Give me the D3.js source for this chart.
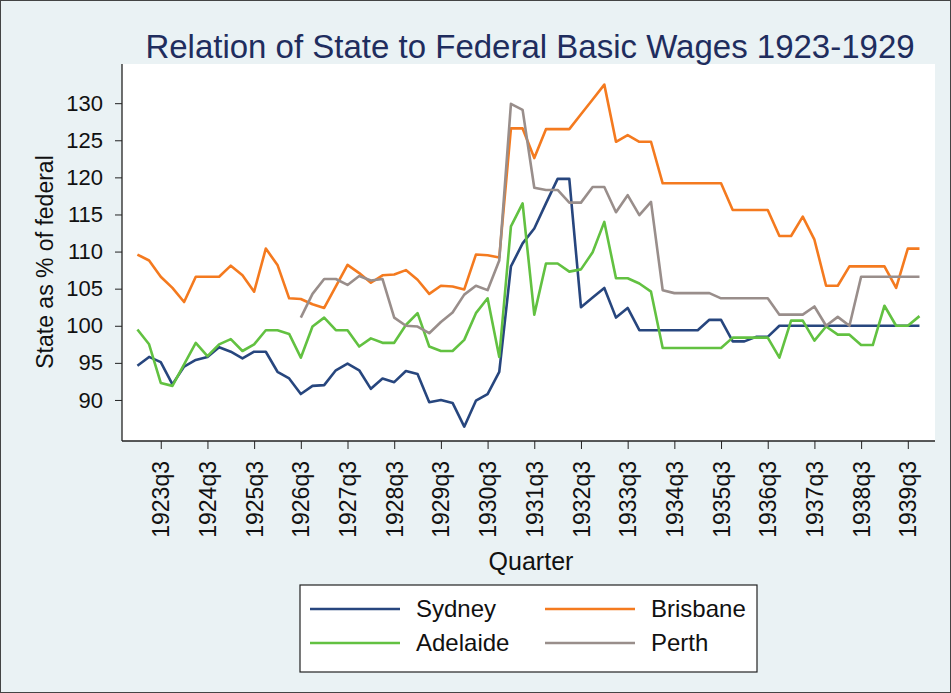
<!DOCTYPE html>
<html>
<head>
<meta charset="utf-8">
<script src="https://cdn.jsdelivr.net/npm/d3@7/dist/d3.min.js"></script>
<style>
  body { margin: 0; background: #fff; }
  svg { display: block; font-family: "Liberation Sans", Arial, sans-serif; }
</style>
</head>
<body>
<div id="vis"></div>
<script>
// quarters 1923q1 .. 1939q4
var quarters = [];
for (var yr = 1923; yr <= 1939; yr++) for (var q = 1; q <= 4; q++) quarters.push(yr + "q" + q);

var tickLabels = ["1923q3","1924q3","1925q3","1926q3","1927q3","1928q3","1929q3","1930q3","1931q3",
  "1932q3","1933q3","1934q3","1935q3","1936q3","1937q3","1938q3","1939q3"];
var yTicks = [90, 95, 100, 105, 110, 115, 120, 125, 130];

var sydney = [94.6,95.8,95.1,92.1,94.5,95.4,95.8,97.1,96.5,95.6,96.5,96.5,93.8,92.9,90.8,91.9,
  92.0,94.0,94.9,94.0,91.5,92.9,92.4,93.9,93.5,89.7,90.0,89.6,86.4,89.9,90.8,93.8,
  108.0,111.1,113.1,116.5,119.8,119.8,102.5,103.8,105.1,101.1,102.4,99.4,99.4,99.4,99.4,99.4,
  99.4,100.8,100.8,97.9,97.9,98.5,98.5,100,100,100,100,100,100,100,100,100,100,100,100,100];

var brisbane = [109.6,108.8,106.6,105.1,103.2,106.6,106.6,106.6,108.1,106.8,104.6,110.4,108.2,103.7,103.6,102.9,
  102.4,105.3,108.2,107.1,105.8,106.8,106.9,107.5,106.2,104.3,105.4,105.3,104.9,109.6,109.5,109.2,
  126.6,126.6,122.6,126.5,126.5,126.5,128.5,130.5,132.5,124.8,125.7,124.8,124.8,119.2,119.2,119.2,
  119.2,119.2,119.2,115.6,115.6,115.6,115.6,112.1,112.1,114.7,111.6,105.4,105.4,108.0,108.0,108.0,
  108.0,105.1,110.4,110.4];

var adelaide = [99.5,97.5,92.3,91.9,94.8,97.7,95.9,97.5,98.2,96.6,97.5,99.4,99.4,98.9,95.7,99.9,
  101.1,99.4,99.4,97.2,98.3,97.7,97.7,100.1,101.7,97.2,96.6,96.6,98.1,101.7,103.7,95.8,
  113.4,116.5,101.5,108.4,108.4,107.3,107.6,109.9,114.0,106.4,106.4,105.7,104.6,97.0,97.0,97.0,
  97.0,97.0,97.0,98.4,98.4,98.4,98.4,95.7,100.7,100.7,98.0,99.9,98.8,98.8,97.4,97.4,
  102.7,100.0,100.0,101.3];

var perth = [null,null,null,null,null,null,null,null,null,null,null,null,null,null,101.1,104.3,
  106.3,106.3,105.5,106.7,106.1,106.3,101.1,100.0,99.9,99.0,100.5,101.8,104.2,105.4,104.8,108.8,
  129.9,129.1,118.6,118.3,118.3,116.6,116.6,118.7,118.7,115.3,117.6,114.9,116.7,104.8,104.4,104.4,
  104.4,104.4,103.7,103.7,103.7,103.7,103.7,101.5,101.5,101.5,102.6,100.0,101.2,100.0,106.6,106.6,
  106.6,106.6,106.6,106.6];

var seriesNames = ["Sydney", "Brisbane", "Adelaide", "Perth"];
var seriesValues = [sydney, brisbane, adelaide, perth];
var colors = ["#27467e", "#f47a1f", "#62c141", "#998e8b"];

var W = 951, H = 693;
var svg = d3.select("#vis").append("svg").attr("width", W).attr("height", H);

svg.append("rect").attr("x", 0.5).attr("y", 0.5).attr("width", W - 1).attr("height", H - 1)
  .attr("fill", "#eaf2f4").attr("stroke", "#444");

var plot = {left: 122, right: 935, top: 64, bottom: 441};
svg.append("rect").attr("x", plot.left).attr("y", plot.top)
  .attr("width", plot.right - plot.left).attr("height", plot.bottom - plot.top)
  .attr("fill", "#fff");

var x = d3.scaleLinear().domain([-1.32, 68.33]).range([plot.left, plot.right]);
var y = d3.scaleLinear().domain([84.47, 135.28]).range([plot.bottom, plot.top]);

// title
svg.append("text").attr("x", 530).attr("y", 58).attr("text-anchor", "middle")
  .attr("font-size", 33).attr("fill", "#1f2d5e")
  .text("Relation of State to Federal Basic Wages 1923-1929");

// y axis
var yAxis = svg.append("g").attr("transform", "translate(" + plot.left + ",0)")
  .call(d3.axisLeft(y).tickValues(yTicks).tickSize(7).tickPadding(12));
yAxis.select(".domain").attr("d", "M0," + plot.top + "V" + plot.bottom).attr("stroke", "#222").attr("stroke-width", 1.3);
yAxis.selectAll(".tick line").attr("stroke", "#222");
yAxis.selectAll(".tick text").attr("font-size", 22).attr("fill", "#111")
  .attr("font-family", "Liberation Sans, Arial, sans-serif");

svg.append("text").attr("transform", "translate(53,262) rotate(-90)")
  .attr("text-anchor", "middle").attr("font-size", 23).attr("fill", "#111")
  .text("State as % of federal");

// x axis
var tickIdx = tickLabels.map(function(t) { return quarters.indexOf(t); });
var xAxis = svg.append("g").attr("transform", "translate(0," + plot.bottom + ")")
  .call(d3.axisBottom(x).tickValues(tickIdx).tickSize(8)
    .tickFormat(function(d) { return quarters[d]; }));
xAxis.select(".domain").attr("d", "M" + plot.left + ",0H" + plot.right).attr("stroke", "#222").attr("stroke-width", 1.3);
xAxis.selectAll(".tick line").attr("stroke", "#222");
xAxis.selectAll(".tick text")
  .attr("font-size", 23).attr("fill", "#111")
  .attr("font-family", "Liberation Sans, Arial, sans-serif")
  .attr("text-anchor", "end").attr("dy", "0.35em")
  .attr("transform", "translate(0,20) rotate(-90)")
  .attr("x", 0).attr("y", 0);

svg.append("text").attr("x", 531).attr("y", 570).attr("text-anchor", "middle")
  .attr("font-size", 25).attr("fill", "#111").text("Quarter");

// lines
var line = d3.line()
  .defined(function(d) { return d != null; })
  .x(function(d, i) { return x(i); })
  .y(function(d) { return y(d); });

svg.append("g").selectAll("path")
  .data(seriesValues)
  .enter().append("path")
  .attr("fill", "none")
  .attr("stroke", function(d, i) { return colors[i]; })
  .attr("stroke-width", 2.6)
  .attr("stroke-linejoin", "round")
  .attr("d", line);

// legend
var legend = svg.append("g");
legend.append("rect").attr("x", 300).attr("y", 585).attr("width", 457).attr("height", 87)
  .attr("fill", "#fff").attr("stroke", "#222").attr("stroke-width", 1.2);

var legPos = [[310, 609], [545, 609], [310, 643], [545, 643]];
var legOrder = [0, 1, 2, 3];
var items = legend.selectAll(".item").data(legOrder).enter().append("g")
  .attr("transform", function(d, i) { return "translate(" + legPos[i][0] + "," + legPos[i][1] + ")"; });
items.append("line").attr("x1", 0).attr("x2", 90).attr("y1", 0).attr("y2", 0)
  .attr("stroke", function(d) { return colors[d]; }).attr("stroke-width", 2.6);
items.append("text").attr("x", 106).attr("y", 0).attr("dy", "0.35em")
  .attr("font-size", 24).attr("fill", "#111")
  .text(function(d) { return seriesNames[d]; });
</script>
</body>
</html>
